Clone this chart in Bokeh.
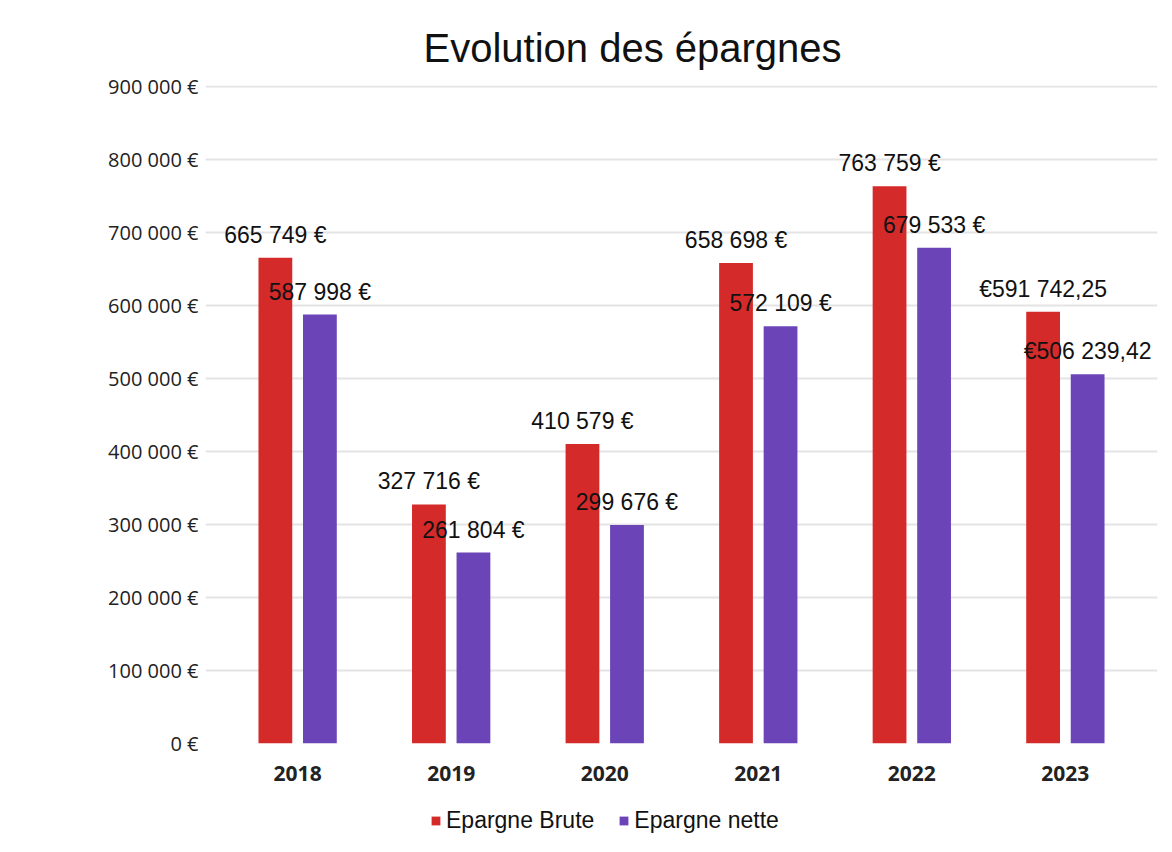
from bokeh.plotting import figure
from bokeh.models import ColumnDataSource, Legend, LegendItem, FixedTicker, FactorRange
from bokeh.layouts import column
from bokeh.transform import dodge
from bokeh.core.properties import value
from bokeh.embed import file_html
from bokeh.resources import INLINE

years = ["2018", "2019", "2020", "2021", "2022", "2023"]
brute = [665749, 327716, 410579, 658698, 763759, 591742.25]
nette = [587998, 261804, 299676, 572109, 679533, 506239.42]
brute_labels = ["665 749 €", "327 716 €", "410 579 €", "658 698 €", "763 759 €", "€591 742,25"]
nette_labels = ["587 998 €", "261 804 €", "299 676 €", "572 109 €", "679 533 €", "€506 239,42"]
y_ticks = [0, 100000, 200000, 300000, 400000, 500000, 600000, 700000, 800000, 900000]
y_tick_labels = ["0 €", "100 000 €", "200 000 €", "300 000 €", "400 000 €", "500 000 €",
                 "600 000 €", "700 000 €", "800 000 €", "900 000 €"]

RED = "#d42a2a"
PURPLE = "#6b44b8"

src = ColumnDataSource(dict(year=years, brute=brute, nette=nette,
                            bl=brute_labels, nl=nette_labels))

xr = FactorRange(factors=years, range_padding=0.1, range_padding_units="absolute")
p = figure(x_range=xr, y_range=(0, 902000), width=1160, height=790,
           output_backend="svg", toolbar_location=None,
           min_border_left=205, min_border_right=3, min_border_top=85, min_border_bottom=47)
p.outline_line_color = None
p.background_fill_color = "white"
p.border_fill_color = "white"

p.title.text = "Evolution des épargnes"
p.title.align = "left"
p.title.offset = 218
p.title.standoff = 32
p.title.text_font = "Liberation Sans"
p.title.text_font_size = "40px"
p.title.text_font_style = "normal"
p.title.text_color = "#111111"

p.vbar(x=dodge("year", -0.145, range=p.x_range), top="brute", width=0.22,
       source=src, fill_color=RED, line_color=None)
p.vbar(x=dodge("year", 0.145, range=p.x_range), top="nette", width=0.22,
       source=src, fill_color=PURPLE, line_color=None)

p.text(x=dodge("year", -0.145, range=p.x_range), y="brute", text="bl", source=src,
       text_font=value("Liberation Sans"), text_font_size="23px", text_color="#111111",
       text_align="center", text_baseline="bottom", y_offset=-10)
p.text(x=dodge("year", 0.145, range=p.x_range), y="nette", text="nl", source=src,
       text_font=value("Liberation Sans"), text_font_size="23px", text_color="#111111",
       text_align="center", text_baseline="bottom", y_offset=-10)

p.yaxis.ticker = FixedTicker(ticks=y_ticks)
p.yaxis.major_label_overrides = {t: l for t, l in zip(y_ticks, y_tick_labels)}
p.yaxis.axis_line_color = None
p.yaxis.major_tick_line_color = None
p.yaxis.minor_tick_line_color = None
p.yaxis.major_label_standoff = 1
p.yaxis.major_label_text_font = "Open Sans"
p.yaxis.major_label_text_font_size = "20px"
p.yaxis.major_label_text_color = "#222222"

p.xaxis.axis_line_color = None
p.xaxis.major_tick_line_color = None
p.xaxis.major_label_standoff = 16
p.xaxis.major_label_text_font = "Open Sans"
p.xaxis.major_label_text_font_size = "21px"
p.xaxis.major_label_text_font_style = "bold"
p.xaxis.major_label_text_color = "#222222"

p.xgrid.grid_line_color = None
p.ygrid.grid_line_color = "#e4e4e4"
p.ygrid.grid_line_width = 2

# Legend strip below the chart (its bars fall outside its visible range)
lf = figure(x_range=years, y_range=(2000000, 3000000), width=1160, height=62,
            output_backend="svg", toolbar_location=None,
            x_axis_type=None, y_axis_type=None,
            min_border_left=0, min_border_right=0, min_border_top=0, min_border_bottom=0)
lf.outline_line_color = None
lf.xgrid.grid_line_color = None
lf.ygrid.grid_line_color = None
lr1 = lf.vbar(x="year", top="brute", width=0.22, source=src, fill_color=RED, line_color=None)
lr2 = lf.vbar(x="year", top="nette", width=0.22, source=src, fill_color=PURPLE, line_color=None)

legend = Legend(items=[LegendItem(label="Epargne Brute", renderers=[lr1]),
                       LegendItem(label="Epargne nette", renderers=[lr2])],
                orientation="horizontal", location=(225, 18),
                label_text_font="Liberation Sans", label_text_font_size="23px",
                label_text_color="#111111", glyph_width=11, glyph_height=11,
                border_line_color=None, background_fill_alpha=0,
                spacing=24, label_standoff=5, margin=0, padding=0)
lf.add_layout(legend, "center")

layout = column(p, lf, spacing=0)
open("out.html", "w").write(file_html(layout, INLINE))
